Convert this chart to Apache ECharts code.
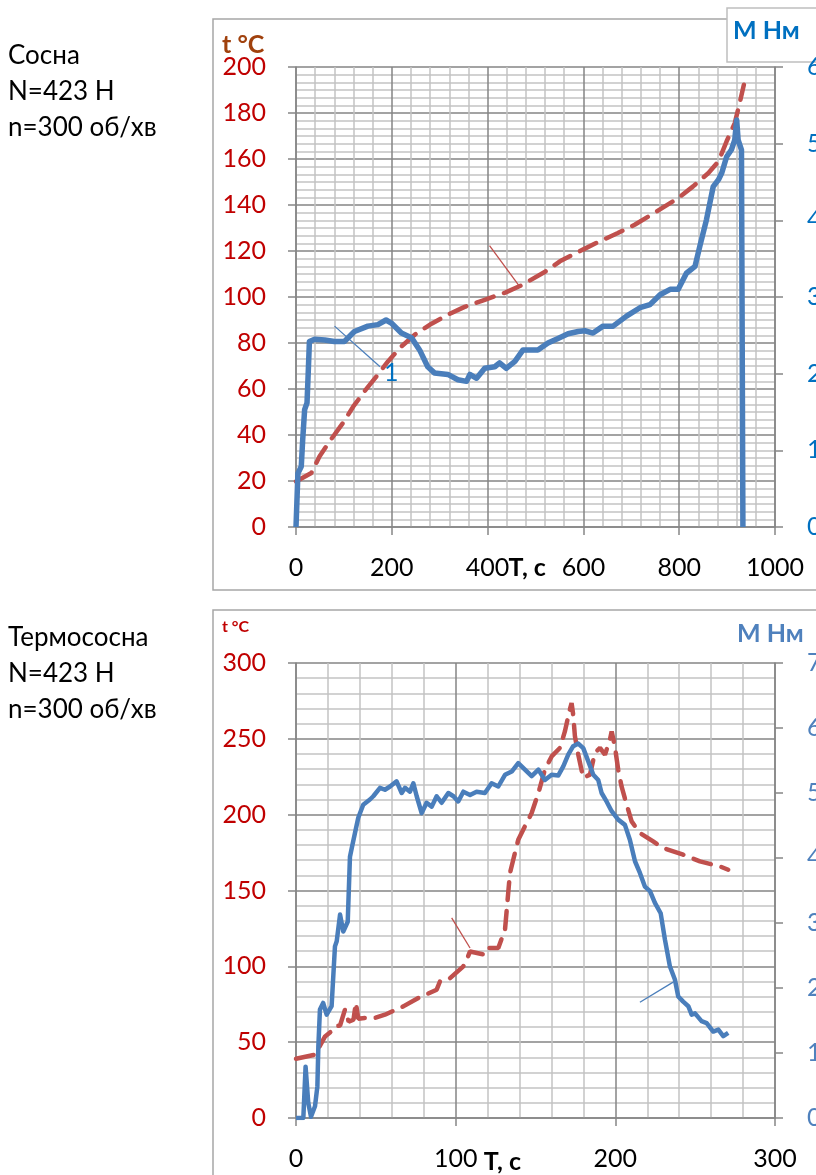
<!DOCTYPE html>
<html><head><meta charset="utf-8">
<script src="https://cdn.jsdelivr.net/npm/echarts@6/dist/echarts.min.js"></script>
<style>html,body{margin:0;padding:0;background:#fff}#c{width:816px;height:1175px}</style>
</head><body><div id="c"></div><script>
// ---- Chart 1: Сосна ----
const pineTempT = [0,32,49,70,98,119,143,168,192,220,248,283,317,352,394,438,470,520,551,599,634,672,707,742,770,798,829,861,882,899,916,927,935];
const pineTempC = [19.8,23.5,30.7,37.2,45.2,52.2,59,65.5,72,78.5,83.6,88.4,92.3,95.7,98.8,102,105,111,115.5,120.6,124.2,127.8,131.4,135.8,139.4,143,148.1,153.9,159,167.7,175.6,185,192.3];
const pineTorqueT = [0,4,11,14,18,23,26,28,39,60,80,101,122,150,171,188,199,220,241,258,275,289,317,338,356,363,377,394,415,425,439,457,474,505,526,547,568,589,603,620,641,662,690,718,739,760,781,798,815,833,843,857,871,882,889,899,909,916,920,923,930,932,933];
const pineTorqueM = [0,0.70,0.79,1.14,1.53,1.62,2.09,2.42,2.45,2.44,2.42,2.42,2.55,2.62,2.64,2.70,2.66,2.53,2.47,2.31,2.09,2.01,1.99,1.92,1.90,1.99,1.94,2.07,2.09,2.14,2.07,2.16,2.31,2.31,2.40,2.46,2.52,2.55,2.56,2.53,2.62,2.62,2.75,2.86,2.90,3.03,3.10,3.10,3.31,3.40,3.66,4.01,4.44,4.53,4.62,4.83,4.92,5.05,5.31,5.05,4.92,4.90,0];
// ---- Chart 2: Термососна ----
const thermoTempT = [0,11.9,18.2,22,24.4,27.6,30.7,33,36,37.5,39,43.2,49.5,55.7,67.2,76.6,88.1,90.2,95.4,104.8,106.9,109,118.3,120.4,126.7,130.9,131.9,134,137.1,139.2,142.3,147.6,151.8,155.9,160.1,165.3,168.4,171.5,172.6,173.6,174.7,176.8,179.9,184.1,187.2,190.4,193.5,196.6,197.7,199.7,201.8,203.9,207.1,210.2,215.4,223.7,230,242.5,253,265.5,270.7];
const thermoTempC = [39.1,41.7,53.8,57,60.4,61,71.5,63.5,64.8,76,65.5,65.9,66,68.1,73.6,79.1,84.6,90.1,91.2,100,104.4,109.8,107.7,112.1,112.1,124.2,136.2,161.5,174.7,183.5,190.1,201.1,214.3,229.7,238.4,244,254.9,269.2,273.6,265.9,251.6,239.5,224.2,226.4,240.7,244,239.5,249.4,254.9,245,229.7,218.6,206.6,195.6,187.9,182.4,178,173.6,169.2,165.9,163.7];
const thermoTorqueT = [0,2.5,4.6,6,7.7,9.4,11.9,13.4,14,15,17,19.2,22.3,24.4,25.5,27.6,29.6,32.4,33.8,34.9,36.9,39,42.1,46.3,48.4,52.6,55.7,58.9,63,66.2,68.3,71.4,73.5,75.6,78.7,81.8,85,88.1,91.2,95.4,98.6,101.6,104.8,109,113.1,118.3,122.5,126.7,130.9,135.1,139.2,143.4,147.6,151.8,155.9,160.1,164.3,167.4,170.5,173.6,176.8,179.9,183,186.2,189.3,191.4,194.5,197.7,201.8,206,209.1,212.3,215.4,218.5,221.7,224.8,228.4,231.1,234.2,237.3,239.4,242.5,245.7,247.8,249.9,254,257.2,261.3,264.5,267.6,270.7];
const thermoTorqueM = [0,0,0,0.79,0.23,0.02,0.18,0.49,1.10,1.67,1.77,1.59,1.72,2.64,2.72,3.13,2.87,3.02,4.02,4.15,4.38,4.62,4.82,4.90,4.95,5.08,5.05,5.10,5.18,5.0,5.08,5.02,5.15,4.95,4.69,4.85,4.79,4.95,4.85,5.0,4.95,4.87,5.02,4.97,5.02,5.0,5.15,5.10,5.28,5.33,5.46,5.36,5.26,5.36,5.20,5.28,5.27,5.41,5.59,5.72,5.76,5.69,5.49,5.28,5.20,5.0,4.87,4.72,4.59,4.51,4.28,3.95,3.77,3.56,3.49,3.31,3.15,2.74,2.33,2.13,1.87,1.79,1.72,1.59,1.61,1.49,1.46,1.33,1.36,1.26,1.31];
// axis ranges / tick labels
const pineX = {min:0,max:1000,step:200}, pineT = {min:0,max:200,step:20}, pineM = {min:0,max:6,step:1};
const thermoX = {min:0,max:300,step:100}, thermoT = {min:0,max:300,step:50}, thermoM = {min:0,max:7,step:1};
const labels1 = ['Сосна','N=423 Н','n=300 об/хв'];
const labels2 = ['Термососна','N=423 Н','n=300 об/хв'];
const xName = 'T, c';
const pineXNameAfter = 400, thermoXNameAfter = 100;
// annotation anchors (data coordinates)
const annPineBlue = [[80.5,2.62],[175.5,2.09]], annPineBlueLabel = [199,2.01];
const annPineRed = [[404,122.3],[467,104.5]];
const annThermoBlue = [[215.4,1.78],[236.2,2.09]];
const annThermoRed = [[97.5,131.9],[109,112.1]];

const zip = (a,b) => a.map((v,i)=>[v,b[i]]);
const FF = 'Lato';
const DARK = '#858585', LIGHT = '#c4c4c4', AX = '#868686';

function xAx(g, r, minorN){
  return {type:'value', gridIndex:g, min:r.min, max:r.max, interval:r.step,
    axisLine:{show:true,onZero:false,lineStyle:{color:AX,width:1.5}},
    axisTick:{show:true,length:8,lineStyle:{color:AX,width:1.5}},
    axisLabel:{color:'#000',fontSize:25,fontFamily:FF,margin:28,formatter:v=>String(v)},
    splitLine:{show:true,lineStyle:{color:DARK,width:1.5}},
    minorTick:{show:false,splitNumber:minorN},
    minorSplitLine:{show:true,lineStyle:{color:LIGHT,width:1.5}}};
}
function yLeft(g, r, minorN){
  return {type:'value', gridIndex:g, position:'left', min:r.min, max:r.max, interval:r.step,
    axisLine:{show:true,onZero:false,lineStyle:{color:AX,width:1.5}},
    axisTick:{show:true,length:8,lineStyle:{color:AX,width:1.5}},
    axisLabel:{color:'#c00000',fontSize:25,fontFamily:FF,margin:30},
    splitLine:{show:true,lineStyle:{color:DARK,width:1.5}},
    minorTick:{show:false,splitNumber:minorN},
    minorSplitLine:{show:true,lineStyle:{color:LIGHT,width:1.5}}};
}
function yRight(g, r, col){
  return {type:'value', gridIndex:g, position:'right', min:r.min, max:r.max, interval:r.step,
    axisLine:{show:true,onZero:false,lineStyle:{color:AX,width:1.5}},
    axisTick:{show:true,length:8,lineStyle:{color:AX,width:1.5}},
    axisLabel:{color:col,fontSize:25,fontFamily:FF,margin:32},
    splitLine:{show:false}};
}
const RED = '#c0504d', BLUE = '#4a7ebb';
function txt(t,x,y,size,col,bold){
  return {type:'text', z:10, style:{text:t,x:x,y:y,fill:col,font:(bold?'bold ':'')+size+'px '+FF,verticalAlign:'middle',align:'left'}};
}
const graphics = [];
labels1.forEach((t,i)=>graphics.push(txt(t,8,56+36*i,26,'#000',false)));
labels2.forEach((t,i)=>graphics.push(txt(t,8,638+36*i,26,'#000',false)));
graphics.push({type:'polyline',shape:{points:[[820,19],[213,19],[213,590],[820,590]]},style:{stroke:'#a6a6a6',lineWidth:1.5,fill:null}});
graphics.push({type:'polyline',shape:{points:[[820,610],[213,610],[213,1180]]},style:{stroke:'#a6a6a6',lineWidth:1.5,fill:null}});
graphics.push({type:'rect',shape:{x:727,y:8,width:100,height:54},style:{stroke:'#bfbfbf',lineWidth:1.5,fill:'#fff'}});
graphics.push(txt('t °C',222,45,25,'#a0410d',true));
graphics.push(txt('M Нм',733,31,25,'#0070c0',true));
graphics.push(txt('t °C',222,627,16,'#c00000',true));
graphics.push(txt('M Нм',737,634,25,'#4f81bd',true));

const option = {
  animation:false,
  grid:[{left:296,top:67,width:479,height:460,containLabel:false,outerBoundsMode:'none'},
        {left:296,top:663,width:479,height:455,containLabel:false,outerBoundsMode:'none'}],
  xAxis:[xAx(0,pineX,5), xAx(1,thermoX,5)],
  yAxis:[yLeft(0,pineT,6), yRight(0,pineM,'#0070c0'), yLeft(1,thermoT,5), yRight(1,thermoM,'#4f81bd')],
  series:[
    {type:'line',xAxisIndex:0,yAxisIndex:0,data:zip(pineTempT,pineTempC),showSymbol:false,silent:true,z:2,
     lineStyle:{color:RED,width:4.5,type:[18,11],cap:'round'}},
    {type:'line',xAxisIndex:0,yAxisIndex:1,data:zip(pineTorqueT,pineTorqueM),showSymbol:false,silent:true,z:3,
     lineStyle:{color:BLUE,width:5.5,join:'round'}},
    {type:'line',xAxisIndex:1,yAxisIndex:2,data:zip(thermoTempT,thermoTempC),showSymbol:false,silent:true,z:2,
     lineStyle:{color:RED,width:4.5,type:[18,11],cap:'round'}},
    {type:'line',xAxisIndex:1,yAxisIndex:3,data:zip(thermoTorqueT,thermoTorqueM),showSymbol:false,silent:true,z:3,
     lineStyle:{color:BLUE,width:4.5,join:'round'}}
  ],
  graphic: graphics
};
const chart = echarts.init(document.getElementById('c'),null,{renderer:'canvas'});
chart.setOption(option);
const px = (si,pt)=>chart.convertToPixel({seriesIndex:si},pt);
function seg(si,pair,col){
  const a=px(si,pair[0]), b=px(si,pair[1]);
  return {type:'line',z:10,shape:{x1:a[0],y1:a[1],x2:b[0],y2:b[1]},style:{stroke:col,lineWidth:1.3}};
}
const lp = px(1,annPineBlueLabel);
const n1 = px(0,[pineXNameAfter,pineT.min]), n2 = px(2,[thermoXNameAfter,thermoT.min]);
const extra = [
  seg(1,annPineBlue,BLUE), seg(0,annPineRed,RED), seg(3,annThermoBlue,BLUE), seg(2,annThermoRed,RED),
  {type:'text',z:10,style:{text:'1',x:lp[0],y:lp[1],fill:'#0070c0',font:'25px '+FF,align:'center',verticalAlign:'middle'}},
  txt(xName,n1[0]+21,n1[1]+41,25,'#000',true),
  txt(xName,n2[0]+28,n2[1]+44,25,'#000',true)
];
chart.setOption({graphic: graphics.concat(extra)});
</script></body></html>
